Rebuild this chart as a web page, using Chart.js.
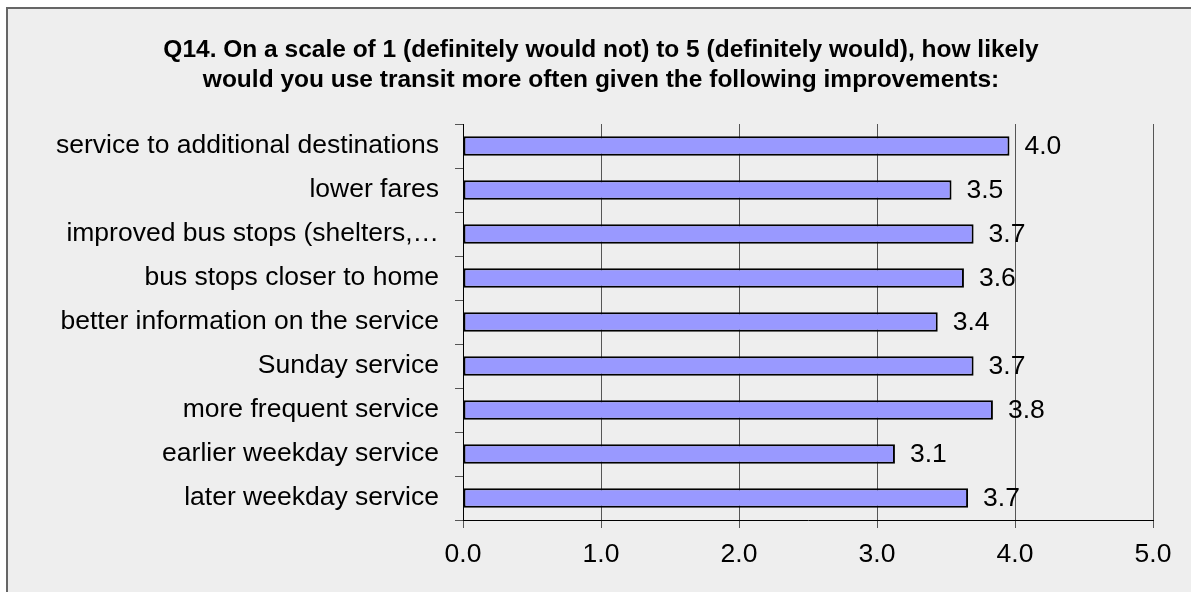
<!DOCTYPE html>
<html>
<head>
<meta charset="utf-8">
<script src="https://cdn.jsdelivr.net/npm/chart.js@4"></script>
<style>
  body { margin: 0; background: #fff; }
  canvas { display: block; }
</style>
</head>
<body>
<canvas id="barChart" width="1191" height="592"></canvas>
<script>
// chart values, top to bottom
const categories = [
    'service to additional destinations',
    'lower fares',
    'improved bus stops (shelters,…',
    'bus stops closer to home',
    'better information on the service',
    'Sunday service',
    'more frequent service',
    'earlier weekday service',
    'later weekday service'
];
const ratings = [3.96, 3.54, 3.70, 3.63, 3.44, 3.70, 3.84, 3.13, 3.66];
const xTicks = [0, 1, 2, 3, 4, 5];
const titleLines = [
    'Q14. On a scale of 1 (definitely would not) to 5 (definitely would), how likely',
    'would you use transit more often given the following improvements:'
];

const FONT = '"Liberation Sans", Arial, sans-serif';

// grey panel with a border, like the spreadsheet chart area
const panelBg = {
    id: 'panelBg',
    beforeDraw(chart) {
        const ctx = chart.ctx;
        ctx.save();
        ctx.fillStyle = '#ffffff';
        ctx.fillRect(0, 0, chart.width, chart.height);
        ctx.fillStyle = '#eeeeee';
        ctx.fillRect(7, 8, chart.width, chart.height);
        ctx.strokeStyle = '#666666';
        ctx.lineWidth = 2;
        ctx.strokeRect(7, 8, chart.width + 10, chart.height + 10);
        ctx.restore();
    }
};

// two-line title, centred on the panel rather than the plot
const panelTitle = {
    id: 'panelTitle',
    afterDraw(chart) {
        const ctx = chart.ctx;
        ctx.save();
        ctx.font = 'bold 24.5px ' + FONT;
        ctx.fillStyle = '#000';
        ctx.textAlign = 'center';
        ctx.textBaseline = 'middle';
        titleLines.forEach((line, i) => ctx.fillText(line, 601, 50 + i * 30));
        ctx.restore();
    }
};

// value labels at the end of each bar
const valueLabels = {
    id: 'valueLabels',
    afterDatasetsDraw(chart) {
        const ctx = chart.ctx;
        const meta = chart.getDatasetMeta(0);
        ctx.save();
        ctx.font = '26.5px ' + FONT;
        ctx.fillStyle = '#000';
        ctx.textAlign = 'left';
        ctx.textBaseline = 'middle';
        meta.data.forEach((bar, i) => {
            ctx.fillText(ratings[i].toFixed(1), bar.x + 15, bar.y + 1);
        });
        ctx.restore();
    }
};

const ctx = document.getElementById('barChart').getContext('2d');
new Chart(ctx, {
    type: 'bar',
    data: {
        labels: categories,
        datasets: [{
            data: ratings,
            backgroundColor: '#9999ff',
            borderColor: '#000000',
            borderWidth: 2,
            borderSkipped: false,
            barPercentage: 0.44,
            categoryPercentage: 1
        }]
    },
    options: {
        indexAxis: 'y',
        responsive: false,
        animation: false,
        devicePixelRatio: 1,
        layout: { padding: { left: 0, right: 38, top: 124, bottom: 0 } },
        plugins: {
            legend: { display: false },
            tooltip: { enabled: false },
            title: { display: false }
        },
        scales: {
            x: {
                min: 0,
                max: 5,
                afterBuildTicks: (scale) => { scale.ticks = xTicks.map(v => ({ value: v })); },
                ticks: {
                    color: '#000',
                    font: { family: FONT, size: 26.5 },
                    padding: 11,
                    maxRotation: 0,
                    callback: (v) => Number(v).toFixed(1)
                },
                grid: { color: '#555555', lineWidth: 1, tickLength: 8 },
                border: { color: '#000000', width: 1 },
                afterFit: (scale) => { scale.height = 72; }
            },
            y: {
                ticks: {
                    color: '#000',
                    font: { family: FONT, size: 26.5 },
                    padding: 16,
                    autoSkip: false
                },
                grid: { drawOnChartArea: false, color: '#555555', tickLength: 8, offset: true },
                border: { color: '#000000', width: 1 },
                afterFit: (scale) => { scale.width = 463; }
            }
        }
    },
    plugins: [panelBg, valueLabels, panelTitle]
});
</script>
</body>
</html>
